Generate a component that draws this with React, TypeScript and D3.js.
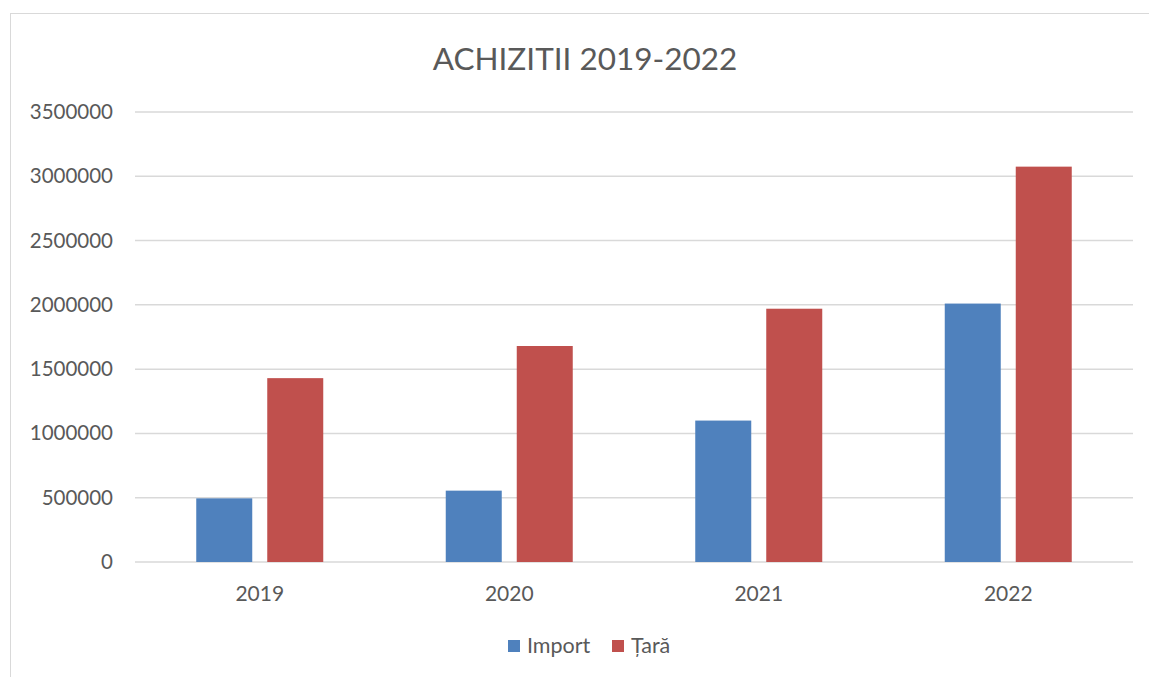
import React, { useEffect, useRef } from "react";
import * as d3 from "d3";

const YEARS = ["2019", "2020", "2021", "2022"];
const SERIES = ["Import", "Țară"];
const IMPORT_VALUES = [495000, 555000, 1100000, 2010000];
const TARA_VALUES = [1430000, 1680000, 1970000, 3075000];
const Y_TICKS = [0, 500000, 1000000, 1500000, 2000000, 2500000, 3000000, 3500000];

const COLORS = ["#4f81bd", "#c0504d"];
const FONT = "Lato, 'Open Sans', sans-serif";

const W = 1149;
const H = 677;

export default function App() {
  const svgRef = useRef<SVGSVGElement | null>(null);

  useEffect(() => {
    if (!svgRef.current) return;
    const svg = d3.select(svgRef.current);
    svg.selectAll("*").remove();

    const left = 135, right = 1133, top = 112, bottom = 562;

    const x = d3.scaleBand().domain(YEARS).range([left, right]).paddingInner(0).paddingOuter(0);
    const y = d3.scaleLinear().domain([0, 3500000]).range([bottom, top]);

    // chart frame (right / bottom edges fall outside the picture)
    svg.append("rect")
      .attr("x", 10.5).attr("y", 13.5)
      .attr("width", W + 20).attr("height", H + 20)
      .attr("fill", "#fff").attr("stroke", "#d9d9d9").attr("stroke-width", 1);

    // title
    svg.append("text")
      .attr("x", 585).attr("y", 70)
      .attr("text-anchor", "middle")
      .attr("font-family", FONT).attr("font-size", 31.5)
      .attr("fill", "#595959")
      .text("ACHIZITII 2019-2022");

    // gridlines
    svg.append("g").selectAll("line").data(Y_TICKS).enter().append("line")
      .attr("x1", left).attr("x2", right)
      .attr("y1", d => y(d)).attr("y2", d => y(d))
      .attr("stroke", "#d9d9d9").attr("stroke-width", 1.5);

    // y labels
    svg.append("g").selectAll("text").data(Y_TICKS).enter().append("text")
      .attr("x", 113).attr("y", d => y(d) + 7)
      .attr("text-anchor", "end")
      .attr("font-family", FONT).attr("font-size", 20.5)
      .attr("fill", "#595959")
      .text(d => String(d));

    // bars
    const barW = 56, gap = 15;
    const groups = [IMPORT_VALUES, TARA_VALUES];
    groups.forEach((vals, si) => {
      svg.append("g").selectAll("rect").data(vals).enter().append("rect")
        .attr("x", (_, i) => x(YEARS[i])! + x.bandwidth() / 2 - (barW * 2 + gap) / 2 + si * (barW + gap))
        .attr("y", d => y(d))
        .attr("width", barW)
        .attr("height", d => bottom - y(d))
        .attr("fill", COLORS[si]);
    });

    // x labels
    svg.append("g").selectAll("text").data(YEARS).enter().append("text")
      .attr("x", d => x(d)! + x.bandwidth() / 2)
      .attr("y", 601)
      .attr("text-anchor", "middle")
      .attr("font-family", FONT).attr("font-size", 21)
      .attr("fill", "#595959")
      .text(d => d);

    // legend
    const legendX = [508, 612];
    SERIES.forEach((s, i) => {
      svg.append("rect")
        .attr("x", legendX[i]).attr("y", 640)
        .attr("width", 12).attr("height", 12)
        .attr("fill", COLORS[i]);
      svg.append("text")
        .attr("x", legendX[i] + 19).attr("y", 653)
        .attr("font-family", FONT).attr("font-size", 21.5)
        .attr("fill", "#595959")
        .text(s);
    });
  }, []);

  return (
    <svg
      ref={svgRef}
      width={W}
      height={H}
      style={{ position: "absolute", left: 0, top: 0, background: "#fff" }}
    />
  );
}
